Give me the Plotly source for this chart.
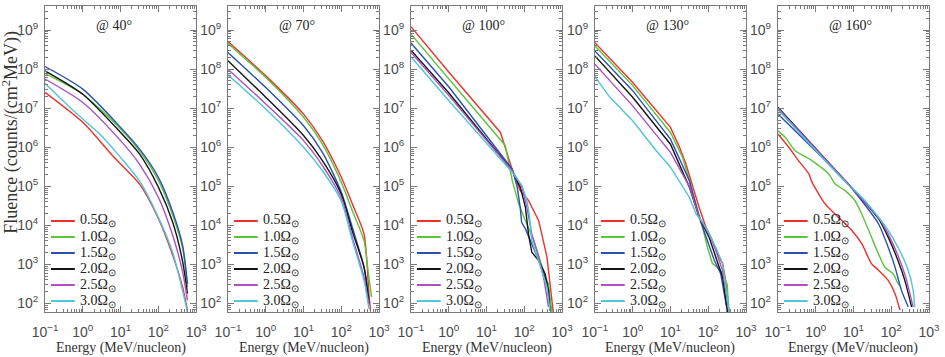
import plotly.graph_objects as go

# ---------------- labels ----------------
SERIES_NAMES = ["0.5Ω<sub>⊙</sub>", "1.0Ω<sub>⊙</sub>", "1.5Ω<sub>⊙</sub>",
                "2.0Ω<sub>⊙</sub>", "2.5Ω<sub>⊙</sub>", "3.0Ω<sub>⊙</sub>"]
PANEL_TITLES = ["@ 40°", "@ 70°", "@ 100°", "@ 130°", "@ 160°"]
X_TICKVALS = [0.1, 1, 10, 100, 1000]
X_TICKTEXT = ["10<sup>−1</sup>", "10<sup>0</sup>", "10<sup>1</sup>", "10<sup>2</sup>", "10<sup>3</sup>"]
Y_TICKVALS = [1e2, 1e3, 1e4, 1e5, 1e6, 1e7, 1e8, 1e9]
Y_TICKTEXT = ["10<sup>2</sup>", "10<sup>3</sup>", "10<sup>4</sup>", "10<sup>5</sup>",
              "10<sup>6</sup>", "10<sup>7</sup>", "10<sup>8</sup>", "10<sup>9</sup>"]
X_TITLE = "Energy (MeV/nucleon)"
Y_TITLE = "Fluence (counts/(cm<sup>2</sup>MeV))"

# ---------------- data: @40 deg ----------------
E40_05 = [0.1, 1, 5.6, 10, 31.6, 100, 240, 437, 589]
F40_05 = [2.57e7, 4.37e6, 6.76e5, 3.72e5, 1.15e5, 1.5e4, 1.7e3, 263, 66]
E40_10 = [0.1, 1, 10, 31.6, 100, 240, 437, 589]
F40_10 = [7.76e7, 2.29e7, 2.95e6, 8.13e5, 1.41e5, 1.8e4, 2.6e3, 263]
E40_15 = [0.1, 1, 10, 31.6, 100, 240, 437, 589]
F40_15 = [1.17e8, 3.09e7, 3.24e6, 9.1e5, 1.7e5, 2.2e4, 3.1e3, 316]
E40_20 = [0.1, 1, 10, 31.6, 100, 240, 437, 589]
F40_20 = [9.1e7, 2.29e7, 2.4e6, 6.76e5, 9.55e4, 1.2e4, 1.2e3, 178]
E40_25 = [0.1, 1, 10, 31.6, 100, 240, 437, 589]
F40_25 = [5.62e7, 1.41e7, 1.48e6, 3.72e5, 5.25e4, 5.5e3, 650, 120]
E40_30 = [0.1, 0.56, 2.8, 10, 31.6, 100, 240, 437, 537, 589]
F40_30 = [4.37e7, 8.71e6, 2.19e6, 5.5e5, 1.38e5, 1.6e4, 2.0e3, 214, 89, 56]

# ---------------- data: @70 deg ----------------
E70_05 = [0.1, 1, 10, 31.6, 100, 195, 398, 537, 589]
F70_05 = [5.13e8, 6.76e7, 7.08e6, 1.48e6, 1.7e5, 3.55e4, 6.03e3, 178, 66]
E70_10 = [0.1, 1, 10, 31.6, 100, 195, 398, 501, 631]
F70_10 = [4.57e8, 6.17e7, 5.89e6, 1.2e6, 1.26e5, 2.4e4, 4.07e3, 794, 145]
E70_15 = [0.1, 1, 10, 31.6, 100, 195, 398, 537]
F70_15 = [2.69e8, 3.39e7, 3.55e6, 7.41e5, 7.08e4, 8.91e3, 851, 120]
E70_20 = [0.1, 1, 10, 31.6, 100, 195, 398, 537]
F70_20 = [1.66e8, 1.91e7, 2.0e6, 4.57e5, 6.3e4, 7.1e3, 851, 98]
E70_25 = [0.1, 1, 10, 31.6, 100, 195, 398, 537]
F70_25 = [1.0e8, 1.29e7, 1.48e6, 3.39e5, 5.0e4, 5.0e3, 468, 89]
E70_30 = [0.1, 1, 10, 31.6, 100, 195, 398, 537]
F70_30 = [7.24e7, 9.55e6, 1.0e6, 2.51e5, 4.17e4, 4.17e3, 389, 74]

# ---------------- data: @100 deg ----------------
E100_05 = [0.1, 1, 23.4, 31.6, 52, 78, 129, 240, 398, 479, 589]
F100_05 = [1.23e9, 8.5e7, 2.4e6, 1.0e6, 2.1e5, 7.8e4, 4.37e4, 1.32e4, 1.55e3, 316, 55]
E100_10 = [0.1, 1, 31.6, 48, 71, 107, 178, 263, 355, 437, 537]
F100_10 = [7.94e8, 5.6e7, 1.1e6, 1.41e5, 3.55e4, 1.32e4, 4.07e3, 1.26e3, 468, 316, 60]
E100_15 = [0.1, 1, 48, 65, 78, 85, 107, 145, 195, 288, 398, 479]
F100_15 = [4.68e8, 3.55e7, 2.75e5, 9.55e4, 2.88e4, 1.2e4, 8.13e3, 4.07e3, 1.86e3, 851, 316, 66]
E100_20 = [0.1, 1, 48, 78, 107, 129, 158, 240, 355, 437, 479]
F100_20 = [3.09e8, 2.5e7, 2.51e5, 9.55e4, 2.95e4, 6.03e3, 2.04e3, 1.26e3, 575, 214, 66]
E100_25 = [0.1, 1, 48, 87, 117, 158, 240, 324, 437]
F100_25 = [2.69e8, 2.14e7, 2.51e5, 9.55e4, 2.88e4, 6.03e3, 1.55e3, 468, 81]
E100_30 = [0.1, 1, 48, 87, 117, 135, 158, 214, 288, 398, 479]
F100_30 = [2.09e8, 1.58e7, 2.29e5, 1.05e5, 4.37e4, 1.95e4, 4.07e3, 1.55e3, 692, 263, 66]

# ---------------- data: @130 deg ----------------
E130_05 = [0.1, 1, 10, 17.4, 25.7, 39, 57.5, 87, 129, 178, 240, 288, 355]
F130_05 = [4.79e8, 4.57e7, 3.24e6, 1.0e6, 3.72e5, 9.55e4, 2.88e4, 8.91e3, 4.07e3, 1.86e3, 1.05e3, 389, 60]
E130_10 = [0.1, 1, 10, 21, 31.6, 48, 71, 95, 129, 158, 214, 316, 355]
F130_10 = [3.98e8, 3.8e7, 2.4e6, 5.5e5, 1.41e5, 3.55e4, 8.91e3, 2.75e3, 1.05e3, 912, 692, 316, 60]
E130_15 = [0.1, 1, 10, 31.6, 57.5, 95, 145, 214, 324]
F130_15 = [2.95e8, 2.82e7, 1.62e6, 1.41e5, 1.62e4, 4.07e3, 1.26e3, 575, 60]
E130_20 = [0.1, 1, 10, 31.6, 57.5, 105, 158, 240, 324]
F130_20 = [2.19e8, 1.91e7, 1.2e6, 9.55e4, 1.62e4, 5.0e3, 1.55e3, 468, 60]
E130_25 = [0.1, 1, 10, 31.6, 57.5, 105, 158, 240, 355]
F130_25 = [1.35e8, 1.15e7, 7.41e5, 1.0e5, 1.62e4, 6.03e3, 2.29e3, 692, 60]
E130_30 = [0.1, 0.25, 1, 4.2, 10, 31.6, 48, 71, 105, 158, 240, 355]
F130_30 = [6.46e7, 1.91e7, 4.79e6, 8.13e5, 3.09e5, 5.25e4, 1.95e4, 1.2e4, 6.03e3, 2.75e3, 1.05e3, 60]

# ---------------- data: @160 deg ----------------
E160_05 = [0.1, 0.195, 0.35, 0.66, 0.79, 1.78, 4.0, 9.1, 16.6, 30, 46, 83, 126, 170]
F160_05 = [2.19e6, 1.0e6, 4.57e5, 2.09e5, 1.32e5, 3.55e4, 1.62e4, 7.41e3, 3.39e3, 1.05e3, 708, 389, 178, 68]
E160_10 = [0.1, 0.158, 0.29, 0.79, 2.2, 3.3, 6.0, 11, 16.6, 30, 46, 68, 112, 151, 165]
F160_10 = [2.63e6, 1.78e6, 8.13e5, 4.57e5, 2.09e5, 1.15e5, 7.76e4, 4.27e4, 1.95e4, 5.0e3, 1.86e3, 851, 575, 324, 288]
E160_15 = [0.1, 6.0, 16.6, 46, 83, 126, 186, 282]
F160_15 = [7.08e6, 1.38e5, 4.27e4, 1.1e4, 2.75e3, 851, 219, 81]
E160_20 = [0.1, 6.0, 16.6, 46, 83, 151, 229, 347]
F160_20 = [1.07e7, 1.41e5, 4.79e4, 1.48e4, 5.0e3, 1.26e3, 389, 81]
E160_25 = [0.1, 6.0, 16.6, 46, 83, 151, 240, 380]
F160_25 = [1.0e7, 1.41e5, 4.79e4, 1.58e4, 6.03e3, 1.7e3, 479, 81]
E160_30 = [0.1, 6.0, 16.6, 46, 83, 151, 282, 380, 417]
F160_30 = [9.3e6, 1.32e5, 5.25e4, 1.62e4, 7.41e3, 2.75e3, 708, 219, 81]

PANELS = [
    [(E40_05, F40_05), (E40_10, F40_10), (E40_15, F40_15), (E40_20, F40_20), (E40_25, F40_25), (E40_30, F40_30)],
    [(E70_05, F70_05), (E70_10, F70_10), (E70_15, F70_15), (E70_20, F70_20), (E70_25, F70_25), (E70_30, F70_30)],
    [(E100_05, F100_05), (E100_10, F100_10), (E100_15, F100_15), (E100_20, F100_20), (E100_25, F100_25), (E100_30, F100_30)],
    [(E130_05, F130_05), (E130_10, F130_10), (E130_15, F130_15), (E130_20, F130_20), (E130_25, F130_25), (E130_30, F130_30)],
    [(E160_05, F160_05), (E160_10, F160_10), (E160_15, F160_15), (E160_20, F160_20), (E160_25, F160_25), (E160_30, F160_30)],
]

# ---------------- style ----------------
COLORS = ["#f0302c", "#5cc43c", "#2b50b0", "#141414", "#ad4fbd", "#4fc4da"]
LINE_SHAPES = ["spline", "spline", "linear", "linear", "spline"]
W, H = 945, 357
ML, MR, MT, MB = 45, 11, 5, 45
PANEL_LEFT_PX = [45, 229, 413, 598, 782]
PANEL_W_PX = 152
AXIS_GREY = "#7a7a7a"
SERIF = "Liberation Serif, Times New Roman, serif"
SANS = "Liberation Sans, Arial, sans-serif"

pw = W - ML - MR
ph = H - MT - MB

fig = go.Figure()
layout = dict(
    width=W, height=H,
    margin=dict(l=ML, r=MR, t=MT, b=MB, pad=0),
    paper_bgcolor="white", plot_bgcolor="white",
    showlegend=False,
    shapes=[], annotations=[],
)

for i, panel in enumerate(PANELS):
    n = "" if i == 0 else str(i + 1)
    xa, ya = "x" + n, "y" + n
    for k, (e, f) in enumerate(panel):
        line = dict(color=COLORS[k], width=1.4, shape=LINE_SHAPES[i])
        if LINE_SHAPES[i] == "spline":
            line["smoothing"] = 0.7
        fig.add_trace(go.Scatter(
            x=e, y=f, mode="lines", name=SERIES_NAMES[k],
            line=line, xaxis=xa, yaxis=ya, showlegend=False,
        ))
    x0 = (PANEL_LEFT_PX[i] - ML) / pw
    x1 = (PANEL_LEFT_PX[i] + PANEL_W_PX - ML) / pw
    common = dict(
        type="log", showline=True, linecolor=AXIS_GREY, linewidth=1,
        mirror="allticks", ticks="inside", ticklen=6, tickcolor=AXIS_GREY, tickwidth=1,
        minor=dict(ticks="inside", ticklen=3, tickcolor=AXIS_GREY, dtick="D1", showgrid=False),
        showgrid=False, zeroline=False, tickmode="array",
        tickfont=dict(family=SANS, size=14, color="#4a4a4a"),
    )
    layout["xaxis" + n] = dict(common, domain=[x0, x1], range=[-1, 3], anchor=ya,
                               tickvals=X_TICKVALS, ticktext=X_TICKTEXT, ticklabelstandoff=7)
    layout["yaxis" + n] = dict(common, domain=[0, 1], range=[1.78, 9.62], anchor=xa,
                               tickvals=Y_TICKVALS, ticktext=Y_TICKTEXT, ticklabelstandoff=3)
    # panel title
    layout["annotations"].append(dict(
        text=PANEL_TITLES[i], xref=xa + " domain", yref=ya + " domain",
        x=49 / PANEL_W_PX, y=(312 - 25) / ph, xanchor="left", yanchor="middle",
        showarrow=False, font=dict(family=SERIF, size=14, color="#222")))
    # x-axis title
    layout["annotations"].append(dict(
        text=X_TITLE, xref=xa + " domain", yref="paper",
        x=0.5, y=(312 - 348) / ph, xanchor="center", yanchor="middle",
        showarrow=False, font=dict(family=SERIF, size=14, color="#333")))
    # legend (drawn in axes-fraction coordinates)
    for k in range(len(SERIES_NAMES)):
        yy = (312 - (220.7 + 16.06 * k)) / ph
        layout["shapes"].append(dict(
            type="line", xref=xa + " domain", yref=ya + " domain",
            x0=6 / PANEL_W_PX, x1=30 / PANEL_W_PX, y0=yy, y1=yy,
            line=dict(color=COLORS[k], width=2)))
        layout["annotations"].append(dict(
            text=SERIES_NAMES[k], xref=xa + " domain", yref=ya + " domain",
            x=33 / PANEL_W_PX, y=yy, xanchor="left", yanchor="middle",
            showarrow=False, font=dict(family=SERIF, size=14, color="#222")))

layout["annotations"].append(dict(
    text=Y_TITLE, xref="paper", yref="paper",
    x=(10 - ML) / pw, y=(312 - 132) / ph, xanchor="center", yanchor="middle",
    textangle=-90, showarrow=False, font=dict(family=SERIF, size=18, color="#333")))

fig.update_layout(**layout)
fig.write_html("out.html")
